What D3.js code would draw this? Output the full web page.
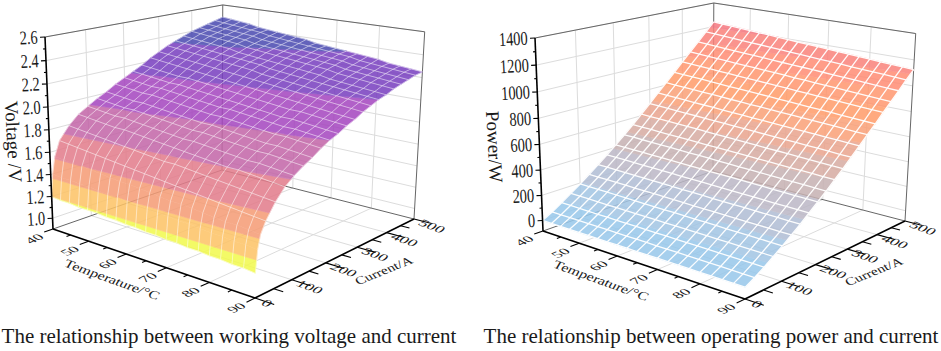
<!DOCTYPE html>
<html><head><meta charset="utf-8">
<style>html,body{margin:0;padding:0;background:#fff}svg{display:block}text{font-family:"Liberation Serif",serif;fill:#1a1a1a}</style>
<script src="https://cdn.jsdelivr.net/npm/d3@7"></script></head><body><svg id="c" width="941" height="351"></svg>
<script>
const temperatures=[40,42.5,45,47.5,50,52.5,55,57.5,60,62.5,65,67.5,70,72.5,75,77.5,80,82.5,85,87.5,90];
const currents=[0,25,50,75,100,125,150,175,200,225,250,275,300,325,350,375,400,425,450,475,500];
const voltageCurrents=[0,5,12,25,50,75,100,125,150,175,200,225,250,275,300,325,350,375,400,425,450,475,500];
const voltageRows=[
[1.20,1.40,1.55,1.68,1.79,1.87,1.92,1.97,2.01,2.06,2.10,2.14,2.18,2.23,2.27,2.31,2.34,2.37,2.40,2.42,2.44,2.46,2.48],
[1.19,1.39,1.54,1.67,1.78,1.86,1.91,1.96,2.00,2.05,2.09,2.13,2.17,2.22,2.26,2.30,2.33,2.36,2.39,2.41,2.43,2.45,2.47],
[1.19,1.39,1.53,1.66,1.77,1.85,1.90,1.95,1.99,2.04,2.08,2.12,2.16,2.21,2.25,2.29,2.32,2.35,2.38,2.40,2.42,2.44,2.46],
[1.18,1.38,1.53,1.65,1.76,1.84,1.89,1.94,1.98,2.03,2.07,2.11,2.15,2.20,2.24,2.28,2.31,2.34,2.37,2.39,2.41,2.43,2.45],
[1.18,1.38,1.52,1.64,1.75,1.83,1.89,1.94,1.98,2.03,2.07,2.10,2.14,2.19,2.23,2.27,2.30,2.33,2.36,2.38,2.40,2.42,2.43],
[1.18,1.37,1.51,1.63,1.74,1.83,1.88,1.93,1.97,2.02,2.06,2.10,2.14,2.18,2.22,2.26,2.29,2.32,2.35,2.37,2.39,2.41,2.42],
[1.17,1.36,1.50,1.62,1.73,1.82,1.87,1.92,1.96,2.01,2.05,2.09,2.13,2.17,2.21,2.25,2.28,2.30,2.33,2.35,2.37,2.39,2.41],
[1.17,1.36,1.49,1.61,1.72,1.81,1.86,1.91,1.95,2.00,2.04,2.08,2.12,2.16,2.20,2.24,2.27,2.29,2.32,2.34,2.36,2.38,2.40],
[1.16,1.35,1.49,1.60,1.71,1.80,1.85,1.90,1.94,1.99,2.03,2.07,2.11,2.15,2.19,2.23,2.26,2.28,2.31,2.33,2.35,2.37,2.39],
[1.16,1.35,1.48,1.59,1.70,1.79,1.84,1.89,1.93,1.98,2.02,2.06,2.10,2.14,2.18,2.22,2.25,2.27,2.30,2.32,2.34,2.36,2.38],
[1.15,1.34,1.47,1.58,1.69,1.78,1.83,1.88,1.92,1.97,2.01,2.05,2.09,2.13,2.17,2.20,2.23,2.26,2.29,2.31,2.33,2.35,2.36],
[1.15,1.33,1.46,1.57,1.69,1.77,1.83,1.88,1.92,1.97,2.01,2.04,2.08,2.12,2.16,2.19,2.22,2.25,2.28,2.30,2.32,2.34,2.35],
[1.14,1.33,1.45,1.56,1.68,1.76,1.82,1.87,1.91,1.96,2.00,2.03,2.07,2.11,2.15,2.18,2.21,2.24,2.27,2.29,2.31,2.33,2.34],
[1.14,1.32,1.45,1.55,1.67,1.75,1.81,1.86,1.90,1.95,1.99,2.02,2.06,2.10,2.14,2.17,2.20,2.23,2.26,2.28,2.30,2.32,2.33],
[1.13,1.32,1.44,1.54,1.66,1.74,1.80,1.85,1.89,1.94,1.98,2.01,2.05,2.09,2.13,2.16,2.19,2.22,2.25,2.27,2.29,2.31,2.32],
[1.13,1.31,1.43,1.53,1.65,1.73,1.79,1.84,1.88,1.93,1.97,2.00,2.04,2.08,2.12,2.15,2.18,2.20,2.23,2.25,2.27,2.29,2.31],
[1.12,1.30,1.42,1.52,1.64,1.73,1.78,1.83,1.87,1.92,1.96,2.00,2.04,2.07,2.11,2.14,2.17,2.19,2.22,2.24,2.26,2.28,2.30],
[1.12,1.30,1.41,1.51,1.63,1.72,1.78,1.83,1.87,1.92,1.96,1.99,2.03,2.06,2.10,2.13,2.16,2.18,2.21,2.23,2.25,2.27,2.28],
[1.11,1.29,1.41,1.50,1.62,1.71,1.77,1.82,1.86,1.91,1.95,1.98,2.02,2.05,2.09,2.12,2.15,2.17,2.20,2.22,2.24,2.26,2.27],
[1.11,1.29,1.40,1.49,1.61,1.70,1.76,1.81,1.85,1.90,1.94,1.97,2.01,2.04,2.08,2.11,2.14,2.16,2.19,2.21,2.23,2.25,2.26],
[1.10,1.28,1.39,1.48,1.60,1.69,1.75,1.80,1.84,1.89,1.93,1.96,2.00,2.03,2.07,2.10,2.13,2.15,2.18,2.20,2.22,2.24,2.25]];
const powerRows=[
[0,42,90,140,192,246,302,360,420,482,545,613,681,751,819,889,960,1029,1098,1169,1240],
[0,42,90,139,191,245,301,359,418,480,543,610,678,748,815,885,956,1024,1093,1164,1234],
[0,42,89,139,190,244,299,357,417,478,541,608,675,744,812,881,951,1020,1088,1158,1229],
[0,41,89,138,190,243,298,356,415,476,538,605,672,741,808,877,947,1015,1083,1153,1223],
[0,41,88,137,189,242,297,354,413,474,536,602,669,737,804,872,942,1010,1078,1148,1217],
[0,41,88,137,188,241,296,353,412,472,534,599,666,734,801,868,938,1005,1073,1143,1211],
[0,41,87,136,187,240,294,351,410,470,532,597,663,731,797,864,934,1001,1068,1138,1206],
[0,40,87,135,186,239,293,350,408,468,529,594,660,727,793,860,929,996,1063,1132,1200],
[0,40,86,135,185,238,292,348,406,466,527,591,657,724,790,856,925,991,1058,1127,1194],
[0,40,86,134,184,237,290,347,405,464,525,588,654,720,786,852,920,987,1053,1122,1188],
[0,40,85,134,184,236,289,346,403,462,523,586,651,717,783,848,916,982,1049,1117,1183],
[0,39,85,133,183,234,288,344,401,459,520,583,648,714,779,843,912,977,1044,1111,1177],
[0,39,84,132,182,233,286,343,400,457,518,580,645,710,775,839,907,973,1039,1106,1171],
[0,39,84,132,181,232,285,341,398,455,516,577,642,707,772,835,903,968,1034,1101,1165],
[0,39,83,131,180,231,284,340,396,453,514,575,639,703,768,831,898,963,1029,1096,1160],
[0,38,83,130,179,230,283,338,395,451,511,572,636,700,764,827,894,959,1024,1090,1154],
[0,38,82,130,178,229,281,337,393,449,509,569,633,697,761,823,890,954,1019,1085,1148],
[0,38,82,129,178,228,280,335,391,447,507,566,630,693,757,818,885,949,1014,1080,1142],
[0,38,81,128,177,227,279,334,389,445,505,564,627,690,753,814,881,944,1009,1075,1137],
[0,37,81,128,176,226,277,332,388,443,502,561,623,686,749,810,876,939,1004,1069,1131],
[0,37,80,127,175,225,276,331,386,441,500,558,621,683,746,806,872,935,999,1064,1125]];
const tempTicks=[40,50,60,70,80,90];
const currentTicks=[0,100,200,300,400,500];
const voltageTicks=[1.0,1.2,1.4,1.6,1.8,2.0,2.2,2.4,2.6];
const powerTicks=[0,200,400,600,800,1000,1200,1400];
const voltageLevels=[1.2,1.36,1.53,1.73,1.93,2.13,2.33];
const voltageColors=["#F4FB66","#FDCB7B","#F6AA88","#E78E9B","#CB7BB4","#B260C8","#8C5BC8","#6363BC"];
const powerLevels=[100,200,300,400,500,600,700,800,900,1000,1100,1200];
const powerColors=["#A6D0EE","#AFCDE8","#BCC6DA","#C5C2CE","#CFBDBE","#DDB8AF","#EDB29F","#FBAE8C","#FFAB80","#FFA684","#FF9D88","#FB948E","#F78C93"];

const svg=d3.select("#c");
const OP=0.86;
function underlay(hex){const c=d3.rgb(hex),f=v=>Math.max(0,Math.min(255,(v-(1-OP)*255)/OP));return d3.rgb(f(c.r),f(c.g),f(c.b)).formatHex();}

function chart(cfg){
  const g=svg.append("g");
  const A=cfg.A,B=cfg.B,C=cfg.C,D=cfg.D,At=cfg.At,c=cfg.c;
  const sx=d3.scaleLinear().domain([40,90]).range([0,1]);
  const sy=d3.scaleLinear().domain([0,500]).range([0,1]);
  const sz=d3.scaleLinear().domain(cfg.zDomain).range([0,1]);
  const e1=[B[0]-C[0],D[0]-C[0],C[0]+A[0]-B[0]-D[0]],e2=[B[1]-C[1],D[1]-C[1],C[1]+A[1]-B[1]-D[1]];
  const det=e1[0]*e2[1]-e1[1]*e2[0];
  const a=(e1[2]*e2[1]-e1[1]*e2[2])/det,b=(e1[0]*e2[2]-e1[2]*e2[0])/det;
  const vec=(P,k)=>[P[0]*(1+k)-A[0],P[1]*(1+k)-A[1]];
  const Pu=vec(B,a),Pv=vec(D,b),Pw=vec(At,c);
  const proj=(t,i,z)=>{const u=sx(t),v=sy(i),w=sz(z),d=1+a*u+b*v+c*w;
    return [(A[0]+u*Pu[0]+v*Pv[0]+w*Pw[0])/d,(A[1]+u*Pu[1]+v*Pv[1]+w*Pw[1])/d];};
  const z0=cfg.zDomain[0],z1=cfg.zDomain[1];
  const line=d3.line();
  const seg=(sel,p,q,col,w)=>sel.append("path").attr("d",line([p,q])).attr("fill","none").attr("stroke",col).attr("stroke-width",w);

  const grid=g.append("g");
  const gc="#dcdcdc";
  cfg.zTicks.forEach(z=>{seg(grid,proj(40,0,z),proj(40,500,z),gc,1);seg(grid,proj(40,500,z),proj(90,500,z),gc,1);});
  tempTicks.slice(1,-1).forEach(t=>{seg(grid,proj(t,500,z0),proj(t,500,z1),gc,1);seg(grid,proj(t,0,z0),proj(t,500,z0),gc,1);});
  currentTicks.slice(1,-1).forEach(i=>{seg(grid,proj(40,i,z0),proj(40,i,z1),gc,1);seg(grid,proj(40,i,z0),proj(90,i,z0),gc,1);});
  const fr=g.append("g"),fc="#666";
  seg(fr,proj(40,0,z1),proj(40,500,z1),fc,1);
  seg(fr,proj(40,500,z1),proj(90,500,z1),fc,1);
  seg(fr,proj(90,500,z0),proj(90,500,z1),fc,1);
  seg(fr,proj(40,500,z0),proj(40,500,z1),fc,1);
  seg(fr,proj(40,0,z0),proj(40,500,z0),fc,1);
  seg(fr,proj(40,500,z0),proj(90,500,z0),fc,1);

  const surf=g.append("g").attr("opacity",OP);
  const rows=cfg.rows,cur=cfg.cur,edges=[z0-1e4,...cfg.levels,z1+1e4];
  const clip=(poly,lo,hi)=>{
    const cut=(pts,inside,val)=>{const out=[];pts.forEach((p,n)=>{const q=pts[(n+1)%pts.length],ip=inside(p[2]),iq=inside(q[2]);
      if(ip)out.push(p);
      if(ip!==iq){const f=(val-p[2])/(q[2]-p[2]);out.push([p[0]+f*(q[0]-p[0]),p[1]+f*(q[1]-p[1]),val]);}});return out;};
    let r=cut(poly,z=>z>=lo,lo);if(r.length)r=cut(r,z=>z<=hi,hi);return r;};
  for(let r=0;r<temperatures.length-1;r++)for(let k=cur.length-2;k>=0;k--){
    const q=[[temperatures[r],cur[k],rows[r][k]],[temperatures[r+1],cur[k],rows[r+1][k]],[temperatures[r+1],cur[k+1],rows[r+1][k+1]],[temperatures[r],cur[k+1],rows[r][k+1]]];
    cfg.colors.forEach((col,n)=>{const p=clip(q,edges[n],edges[n+1]);
      if(p.length>2){const f=underlay(col);surf.append("path").attr("d",line(p.map(v=>proj(v[0],v[1],v[2])))+"Z").attr("fill",f).attr("stroke",f).attr("stroke-width",.6);}});
  }
  const mesh=g.append("g").attr("fill","none").attr("stroke",cfg.meshColor).attr("stroke-width",cfg.meshWidth).attr("stroke-opacity",cfg.meshOpacity);
  temperatures.forEach((t,r)=>{mesh.append("path").attr("d",line(cur.map((i,k)=>proj(t,i,rows[r][k]))));});
  cur.forEach((i,k)=>{if(currents.includes(i))mesh.append("path").attr("d",line(temperatures.map((t,r)=>proj(t,i,rows[r][k]))));});

  const ax=g.append("g");
  seg(ax,proj(40,0,z0),proj(40,0,z1),"#000",1.6);
  seg(ax,proj(40,0,z0),proj(90,0,z0),"#000",1.6);
  seg(ax,proj(90,0,z0),proj(90,500,z0),"#000",1.6);
  const zs=cfg.zTicks,zst=(zs[1]-zs[0])/2;
  d3.range(zs[0],z1+zst/2,zst).forEach((z,n)=>{const p=proj(40,0,z),l=n%2?2.5:5;seg(ax,p,[p[0]-l,p[1]+.2],"#000",1.1);});
  d3.range(40,90.1,5).forEach((t,n)=>{seg(ax,proj(t,0,z0),proj(t,n%2?-10:-22,z0),"#000",1.1);});
  d3.range(0,500.1,50).forEach((i,n)=>{seg(ax,proj(90,i,z0),proj(n%2?92:94,i,z0),"#000",1.1);});

  const tx=g.append("g");
  const lab=(str,x,y,size,tf,anchor)=>tx.append("text").text(str).attr("font-size",size).attr("text-anchor",anchor||"middle").attr("transform",`translate(${x},${y}) ${tf}`);
  zs.forEach(z=>{const p=proj(40,0,z);lab(cfg.zFormat(z),p[0]-7,p[1]+6.5,19.5,"rotate(-3) scale(.74,1)","end");});
  tempTicks.forEach(t=>{const p=proj(t,0,z0);lab(t,p[0]-15,p[1]+12,14,"matrix(1,-.46,.78,.48,0,0)");});
  currentTicks.forEach(i=>{const p=proj(90,i,z0);lab(i,p[0]+(i?15:9),p[1]+(i?10:8),14,"matrix(1.15,.42,-.62,.6,0,0)");});
  lab(cfg.zLabel,cfg.zLabelPos[0],cfg.zLabelPos[1],19,"rotate(87)");
  lab("Temperature/°C",cfg.tPos[0],cfg.tPos[1],14,"matrix(1.05,.38,-.45,.75,0,0)");
  lab("Current/A",cfg.iPos[0],cfg.iPos[1],14,"matrix(.98,-.40,.5,.7,0,0)");
  lab(cfg.title,cfg.titlePos[0],cfg.titlePos[1],21,"");
}
chart({A:[53,229],B:[255,298],C:[414,219],D:[222,170],At:[45,37],c:-0.05,zDomain:[0.9,2.6],
  zTicks:voltageTicks,zFormat:d3.format(".1f"),rows:voltageRows,cur:voltageCurrents,levels:voltageLevels,colors:voltageColors,
  meshColor:"#fff",meshWidth:.9,meshOpacity:.55,zLabel:"Voltage /V",zLabelPos:[7,142],
  tPos:[110,283],iPos:[386,274],title:"The relationship between working voltage and current",titlePos:[229,343]});
chart({A:[543,231],B:[745,299],C:[905,221],D:[713,171],At:[535,38],c:-0.05,zDomain:[-85,1400],
  zTicks:powerTicks,zFormat:d3.format("d"),rows:powerRows,cur:currents,levels:powerLevels,colors:powerColors,
  meshColor:"#fff",meshWidth:1.3,meshOpacity:.95,zLabel:"Power/W",zLabelPos:[488,147],
  tPos:[599,284],iPos:[876,275],title:"The relationship between operating power and current",titlePos:[711,343]});
</script></body></html>
